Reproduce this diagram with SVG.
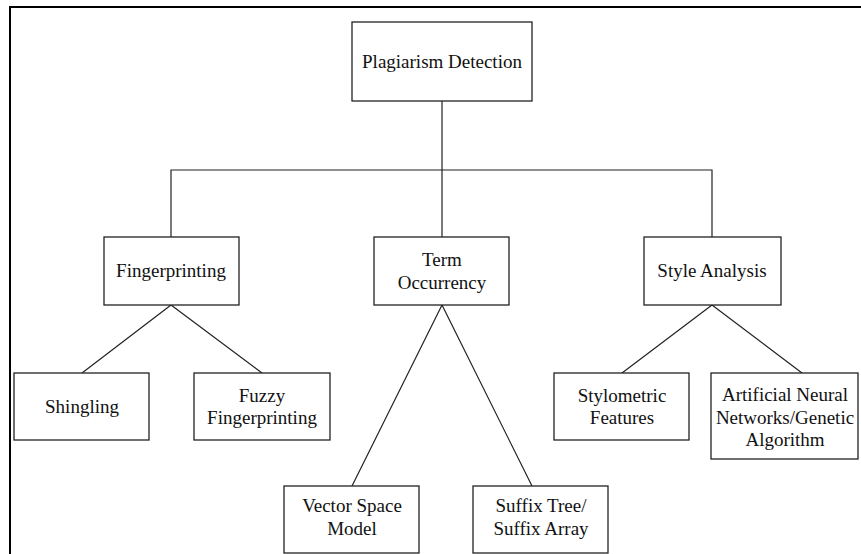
<svg xmlns="http://www.w3.org/2000/svg" width="861" height="554" viewBox="0 0 861 554">
<style>
.box{fill:#fff;stroke:#222;stroke-width:1.3}
.lbl{font-family:"Liberation Serif","Times New Roman",serif;font-size:19px;fill:#111;text-anchor:middle}
.con{stroke:#222;stroke-width:1.2;fill:none}
</style>
<rect x="0" y="0" width="861" height="554" fill="#fff"/>
<path d="M10 554 V7 H861" fill="none" stroke="#000" stroke-width="2"/>
<g id="connectors">
<path class="con" d="M442 101 V170 M171 237 V170 H712 V237 M442 170 V237"/>
<path class="con" d="M171 305 L82 373 M171 305 L262 373"/>
<path class="con" d="M442 305 L352 486 M442 305 L532 486"/>
<path class="con" d="M712 305 L622 373 M712 305 L802 373"/>
</g>
<g id="root"><rect class="box" x="352" y="22" width="180" height="79"/><text class="lbl" x="442" y="68">Plagiarism Detection</text></g>
<g id="fingerprinting"><rect class="box" x="104" y="237" width="135" height="68"/><text class="lbl" x="171" y="277">Fingerprinting</text></g>
<g id="term"><rect class="box" x="374" y="237" width="135" height="68"/><text class="lbl" x="442" y="266">Term</text><text class="lbl" x="442" y="289">Occurrency</text></g>
<g id="style"><rect class="box" x="644" y="237" width="137" height="68"/><text class="lbl" x="712" y="277">Style Analysis</text></g>
<g id="shingling"><rect class="box" x="14" y="373" width="135" height="67"/><text class="lbl" x="82" y="413">Shingling</text></g>
<g id="fuzzy"><rect class="box" x="194" y="373" width="136" height="67"/><text class="lbl" x="262" y="402">Fuzzy</text><text class="lbl" x="262" y="424">Fingerprinting</text></g>
<g id="vector"><rect class="box" x="284" y="486" width="135" height="67"/><text class="lbl" x="352" y="512">Vector Space</text><text class="lbl" x="352" y="535">Model</text></g>
<g id="suffix"><rect class="box" x="473" y="486" width="135" height="67"/><text class="lbl" x="541" y="512">Suffix Tree/</text><text class="lbl" x="541" y="535">Suffix Array</text></g>
<g id="stylometric"><rect class="box" x="554" y="373" width="135" height="67"/><text class="lbl" x="622" y="402">Stylometric</text><text class="lbl" x="622" y="424">Features</text></g>
<g id="ann"><rect class="box" x="711" y="373" width="147" height="86"/><text class="lbl" x="785" y="401">Artificial Neural</text><text class="lbl" x="785" y="424">Networks/Genetic</text><text class="lbl" x="785" y="446">Algorithm</text></g>
</svg>
